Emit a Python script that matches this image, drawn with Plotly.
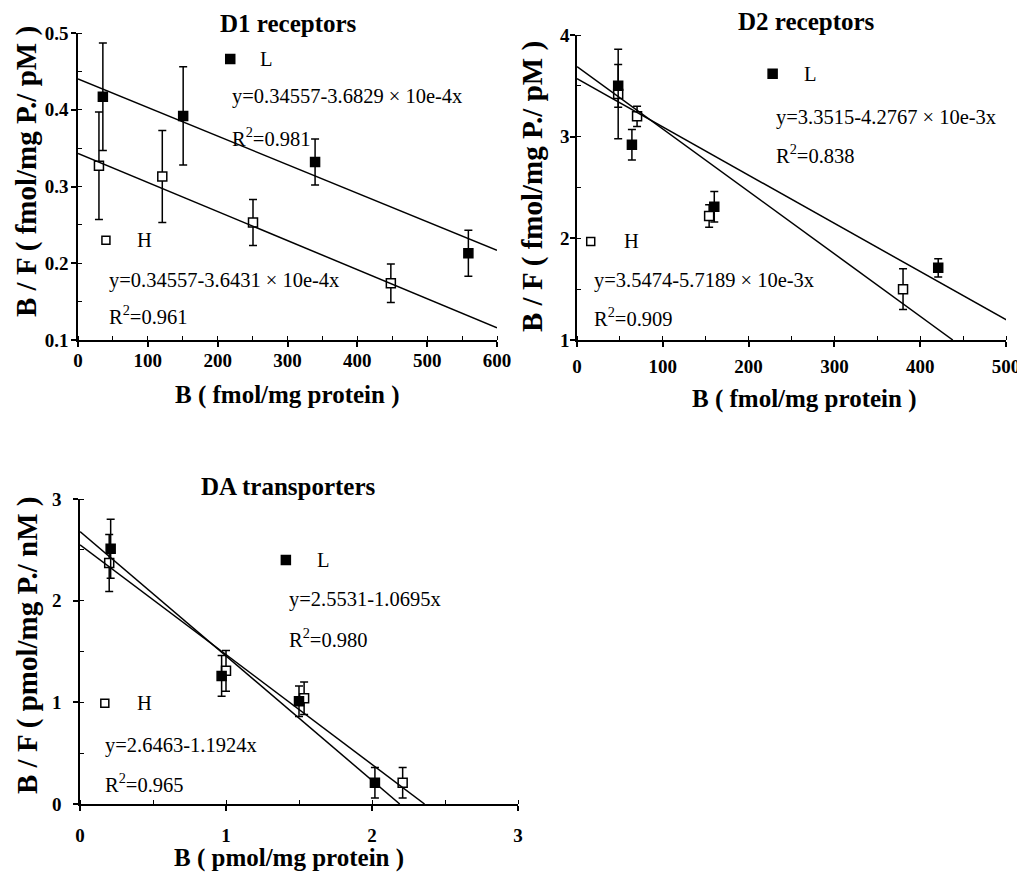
import plotly.graph_objects as go

# ---------------- data ----------------
# D1 receptors
d1_L_x = [35.6, 150.6, 339.5, 559]
d1_L_y = [0.417, 0.392, 0.332, 0.213]
d1_L_err = [0.07, 0.064, 0.03, 0.03]
d1_H_x = [30, 120.7, 250.6, 448]
d1_H_y = [0.327, 0.313, 0.253, 0.174]
d1_H_err = [0.07, 0.06, 0.03, 0.025]
d1_fitL_x = [0, 600]
d1_fitL_y = [0.44, 0.217]
d1_fitH_x = [0, 600]
d1_fitH_y = [0.343, 0.116]

# D2 receptors
d2_L_x = [48, 64, 160, 421]
d2_L_y = [3.5, 2.92, 2.31, 1.71]
d2_L_err = [0.21, 0.15, 0.15, 0.09]
d2_H_x = [48, 70, 154, 380]
d2_H_y = [3.42, 3.2, 2.22, 1.5]
d2_H_err = [0.44, 0.1, 0.11, 0.2]
d2_fitL_x = [0, 502]
d2_fitL_y = [3.57, 1.19]
d2_fitH_x = [0, 438]
d2_fitH_y = [3.69, 1.0]

# DA transporters
da_L_x = [0.21, 0.97, 1.50, 2.02]
da_L_y = [2.51, 1.26, 1.01, 0.21]
da_L_err = [0.29, 0.2, 0.15, 0.15]
da_H_x = [0.2, 1.0, 1.535, 2.21]
da_H_y = [2.37, 1.31, 1.04, 0.21]
da_H_err = [0.28, 0.2, 0.16, 0.15]
da_fitA_x = [0, 2.19]
da_fitA_y = [2.68, 0.0]
da_fitB_x = [0, 2.36]
da_fitB_y = [2.55, 0.0]

# tick values / labels
d1_xticks = [0, 100, 200, 300, 400, 500, 600]
d1_yticks = [0.1, 0.2, 0.3, 0.4, 0.5]
d1_ylabels = ["0.1", "0.2", "0.3", "0.4", "0.5"]
d2_xticks = [0, 100, 200, 300, 400, 500]
d2_yticks = [1, 2, 3, 4]
da_xticks = [0, 1, 2, 3]
da_yticks = [0, 1, 2, 3]

titles = ["D1 receptors", "D2 receptors", "DA transporters"]
x_titles = ["B ( fmol/mg protein )", "B ( fmol/mg protein )", "B ( pmol/mg protein )"]
y_titles = ["B / F ( fmol/mg P./ pM )", "B / F ( fmol/mg P./ pM )", "B / F ( pmol/mg P./ nM )"]
eq_L = ["y=0.34557-3.6829 × 10e-4x", "y=3.3515-4.2767 × 10e-3x", "y=2.5531-1.0695x"]
r2_L = ["R<sup>2</sup>=0.981", "R<sup>2</sup>=0.838", "R<sup>2</sup>=0.980"]
eq_H = ["y=0.34557-3.6431 × 10e-4x", "y=3.5474-5.7189 × 10e-3x", "y=2.6463-1.1924x"]
r2_H = ["R<sup>2</sup>=0.961", "R<sup>2</sup>=0.909", "R<sup>2</sup>=0.965"]

# ---------------- layout constants ----------------
OFF = 8                      # page body margin
W, H = 1025 - OFF, 875 - OFF
FONT = "Liberation Serif"


def px(x):
    return (x - OFF) / W


def py(y):
    return 1 - (y - OFF) / H


# legend swatch / text positions in data coordinates of each panel
leg = [
    dict(Lsq=(218, 0.466), Ltxt=(258, 0.466), eqL=(218, 0.417), r2L=(218, 0.364),
         Hsq=(40, 0.230), Htxt=(82, 0.230), eqH=(41, 0.178), r2H=(41, 0.133)),
    dict(Lsq=(228, 3.62), Ltxt=(262, 3.62), eqL=(230, 3.19), r2L=(230, 2.83),
         Hsq=(16, 1.97), Htxt=(52, 1.97), eqH=(17, 1.59), r2H=(17, 1.23)),
    dict(Lsq=(1.41, 2.40), Ltxt=(1.61, 2.40), eqL=(1.42, 2.01), r2L=(1.42, 1.63),
         Hsq=(0.17, 0.99), Htxt=(0.38, 0.99), eqH=(0.16, 0.58), r2H=(0.16, 0.21)),
]

fig = go.Figure()

panels = [
    (d1_L_x, d1_L_y, d1_L_err, d1_H_x, d1_H_y, d1_H_err,
     [(d1_fitL_x, d1_fitL_y), (d1_fitH_x, d1_fitH_y)]),
    (d2_L_x, d2_L_y, d2_L_err, d2_H_x, d2_H_y, d2_H_err,
     [(d2_fitL_x, d2_fitL_y), (d2_fitH_x, d2_fitH_y)]),
    (da_L_x, da_L_y, da_L_err, da_H_x, da_H_y, da_H_err,
     [(da_fitA_x, da_fitA_y), (da_fitB_x, da_fitB_y)]),
]

MS = 9
for i, (lx, ly, le, hx, hy, he, fits) in enumerate(panels):
    xa = "x" if i == 0 else f"x{i+1}"
    ya = "y" if i == 0 else f"y{i+1}"
    err = lambda e: dict(type="data", array=e, visible=True, color="black",
                         thickness=1.5, width=4)
    fig.add_trace(go.Scatter(x=hx, y=hy, mode="markers", xaxis=xa, yaxis=ya,
                             error_y=err(he), showlegend=False,
                             marker=dict(symbol="square", size=MS, color="white",
                                         line=dict(color="black", width=1.5))))
    fig.add_trace(go.Scatter(x=lx, y=ly, mode="markers", xaxis=xa, yaxis=ya,
                             error_y=err(le), showlegend=False,
                             marker=dict(symbol="square", size=MS, color="black",
                                         line=dict(color="black", width=1.5))))
    for fx, fy in fits:
        fig.add_trace(go.Scatter(x=fx, y=fy, mode="lines", xaxis=xa, yaxis=ya,
                                 showlegend=False, line=dict(color="black", width=1.5)))
    g = leg[i]
    fig.add_trace(go.Scatter(x=[g["Lsq"][0]], y=[g["Lsq"][1]], mode="markers",
                             xaxis=xa, yaxis=ya, showlegend=False,
                             marker=dict(symbol="square", size=MS, color="black",
                                         line=dict(color="black", width=1.5))))
    fig.add_trace(go.Scatter(x=[g["Hsq"][0]], y=[g["Hsq"][1]], mode="markers",
                             xaxis=xa, yaxis=ya, showlegend=False,
                             marker=dict(symbol="square", size=MS - 1, color="white",
                                         line=dict(color="black", width=1.5))))
    txt = dict(xref=xa, yref=ya, showarrow=False, xanchor="left", yanchor="middle",
               font=dict(family=FONT, size=20.5, color="black"))
    for key, t in [("Ltxt", "L"), ("eqL", eq_L[i]), ("r2L", r2_L[i]),
                   ("Htxt", "H"), ("eqH", eq_H[i]), ("r2H", r2_H[i])]:
        fig.add_annotation(x=g[key][0], y=g[key][1], text=t, **txt)

# axes geometry (pixels in the reference picture)
geo = [
    dict(x0=78, x1=497, y0=33, y1=340),
    dict(x0=577, x1=1006, y0=35, y1=340),
    dict(x0=80, x1=518, y0=499, y1=804),
]
xranges = [[0, 600], [0, 500], [0, 3]]
yranges = [[0.1, 0.5], [1, 4], [0, 3]]
xticks = [d1_xticks, d2_xticks, da_xticks]
yticks = [d1_yticks, d2_yticks, da_yticks]
ylabels = [d1_ylabels, [str(v) for v in d2_yticks], [str(v) for v in da_yticks]]
xminor = [50, 50, 0.5]
yminor = [0.05, 0.5, 0.5]
xstand = [-3, 3, 8]
ystand = [-1, -3, 8]


def bold(labels):
    return [f"<b>{t}</b>" for t in labels]


for i in range(3):
    g = geo[i]
    sx = "xaxis" if i == 0 else f"xaxis{i+1}"
    sy = "yaxis" if i == 0 else f"yaxis{i+1}"
    anc_y = "y" if i == 0 else f"y{i+1}"
    anc_x = "x" if i == 0 else f"x{i+1}"
    common = dict(showline=True, linecolor="black", linewidth=1.5, showgrid=False,
                  zeroline=False, ticks="outside", ticklen=5, tickwidth=1.5,
                  tickcolor="black", automargin=False, tickmode="array",
                  tickfont=dict(family=FONT, size=19, color="black"),
                  fixedrange=True)
    fig.layout[sx] = dict(common, domain=[px(g["x0"]), px(g["x1"])], anchor=anc_y,
                          range=xranges[i], tickvals=xticks[i],
                          ticktext=bold([str(v) for v in xticks[i]]),
                          ticklabelstandoff=xstand[i],
                          minor=dict(dtick=xminor[i], tick0=0, ticks="inside",
                                     ticklen=4, tickwidth=1, tickcolor="black"))
    fig.layout[sy] = dict(common, domain=[py(g["y1"]), py(g["y0"])], anchor=anc_x,
                          range=yranges[i], tickvals=yticks[i],
                          ticktext=bold(ylabels[i]), ticklabelstandoff=ystand[i],
                          minor=dict(dtick=yminor[i], tick0=0, ticks="inside",
                                     ticklen=4, tickwidth=1, tickcolor="black"))

# titles and axis titles (pixel positions in the reference picture)
title_pos = [(288, 23), (806, 22), (288, 486)]
xt_pos = [(287, 395), (804, 399), (289, 858)]
yt_pos = [(27, 172), (532, 187), (27, 645)]
base = dict(xref="paper", yref="paper", showarrow=False, xanchor="center",
            yanchor="middle")
for i in range(3):
    fig.add_annotation(x=px(title_pos[i][0]), y=py(title_pos[i][1]),
                       text=f"<b>{titles[i]}</b>",
                       font=dict(family=FONT, size=25, color="black"), **base)
    fig.add_annotation(x=px(xt_pos[i][0]), y=py(xt_pos[i][1]),
                       text=f"<b>{x_titles[i]}</b>",
                       font=dict(family=FONT, size=25, color="black"), **base)
    fig.add_annotation(x=px(yt_pos[i][0]), y=py(yt_pos[i][1]),
                       text=f"<b>{y_titles[i]}</b>", textangle=-90,
                       font=dict(family=FONT, size=29, color="black"), **base)

fig.update_layout(width=W, height=H, margin=dict(l=0, r=0, t=0, b=0),
                  paper_bgcolor="white", plot_bgcolor="white",
                  font=dict(family=FONT, color="black"))

fig.write_html("out.html")
